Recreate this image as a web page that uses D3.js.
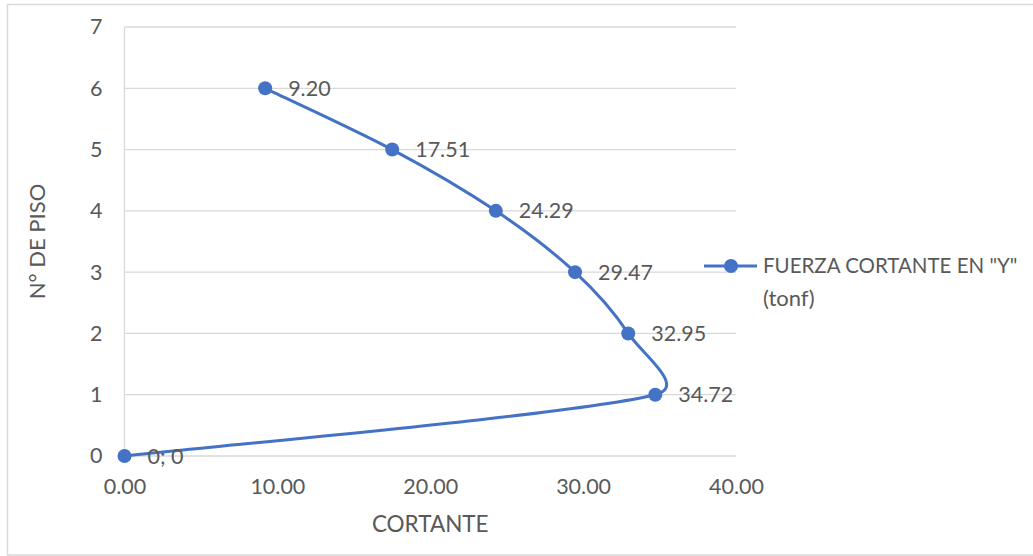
<!DOCTYPE html>
<html>
<head>
<meta charset="utf-8">
<script src="https://cdn.jsdelivr.net/npm/d3@7"></script>
<style>
  html, body { margin: 0; padding: 0; background: #fff; }
  svg { display: block; }
  text { font-family: Lato, "Open Sans", sans-serif; fill: #595959; }
</style>
</head>
<body>
<svg id="chart" width="1033" height="556"></svg>
<script>
// Story shear force (tonf) against floor number
const floors = [0, 1, 2, 3, 4, 5, 6];
const shear = [0, 34.72, 32.95, 29.47, 24.29, 17.51, 9.20];
const pointLabels = ["0; 0", "34.72", "32.95", "29.47", "24.29", "17.51", "9.20"];
const xTicks = [0, 10, 20, 30, 40];
const yTicks = [0, 1, 2, 3, 4, 5, 6, 7];
const seriesName = ["FUERZA CORTANTE EN \"Y\"", "(tonf)"];
const xTitle = "CORTANTE";
const yTitle = "N° DE PISO";

const W = 1033, H = 556;
const plot = { left: 124.5, right: 736, top: 27, bottom: 456 };
const blue = "#4472C4";

// Spreadsheet-style smoothing: cubic Bezier segments whose control arms are
// 1/6 of the neighbour chord, capped at half of the segment length.
function SmoothCurve(context) { this._context = context; }
SmoothCurve.prototype = {
  areaStart() { this._line = 0; },
  areaEnd() { this._line = NaN; },
  lineStart() { this._pts = []; },
  point(x, y) { this._pts.push([+x, +y]); },
  lineEnd() {
    const p = this._pts, n = p.length, ctx = this._context;
    if (!n) return;
    ctx.moveTo(p[0][0], p[0][1]);
    const dist = (a, b) => Math.hypot(b[0] - a[0], b[1] - a[1]);
    for (let i = 0; i < n - 1; i++) {
      const p0 = p[Math.max(i - 1, 0)], p1 = p[i], p2 = p[i + 1], p3 = p[Math.min(i + 2, n - 1)];
      const d12 = dist(p1, p2);
      let f1 = 1 / 6, f2 = 1 / 6;
      const d02 = dist(p0, p2), d13 = dist(p1, p3);
      if (d02 * f1 > d12 / 2 && d02 > 0) f1 = d12 / (2 * d02);
      if (d13 * f2 > d12 / 2 && d13 > 0) f2 = d12 / (2 * d13);
      const c1 = [p1[0] + f1 * (p2[0] - p0[0]), p1[1] + f1 * (p2[1] - p0[1])];
      const c2 = [p2[0] - f2 * (p3[0] - p1[0]), p2[1] - f2 * (p3[1] - p1[1])];
      ctx.bezierCurveTo(c1[0], c1[1], c2[0], c2[1], p2[0], p2[1]);
    }
  }
};
const curveSmooth = context => new SmoothCurve(context);

const svg = d3.select("#chart");

// chart frame
svg.append("rect")
  .attr("x", 7.5).attr("y", 4.5)
  .attr("width", W + 10).attr("height", 550.5)
  .attr("fill", "#fff").attr("stroke", "#d9d9d9").attr("stroke-width", 1.5);

const x = d3.scaleLinear().domain([0, 40]).range([plot.left, plot.right]);
const y = d3.scaleLinear().domain([0, 7]).range([plot.bottom, plot.top]);

// horizontal gridlines
svg.append("g")
  .selectAll("line")
  .data(yTicks)
  .join("line")
  .attr("x1", plot.left).attr("x2", plot.right)
  .attr("y1", d => y(d)).attr("y2", d => y(d))
  .attr("stroke", "#d9d9d9").attr("stroke-width", 1.3);

// vertical axis line at x = 0
svg.append("line")
  .attr("x1", x(0)).attr("x2", x(0))
  .attr("y1", plot.top).attr("y2", plot.bottom)
  .attr("stroke", "#d9d9d9").attr("stroke-width", 1.3);

// axes built with d3 axis generators, lines hidden
const xAxis = svg.append("g")
  .attr("transform", `translate(0,${plot.bottom})`)
  .call(d3.axisBottom(x).tickValues(xTicks).tickFormat(d3.format(".2f")).tickSize(0).tickPadding(23));
const yAxis = svg.append("g")
  .attr("transform", `translate(${plot.left},0)`)
  .call(d3.axisLeft(y).tickValues(yTicks).tickFormat(d3.format("d")).tickSize(0).tickPadding(22));
[xAxis, yAxis].forEach(g => {
  g.select(".domain").remove();
  g.selectAll("text")
    .style("font-family", "Lato, 'Open Sans', sans-serif")
    .style("font-size", "21.5px")
    .attr("fill", "#595959");
});

// axis titles
svg.append("text")
  .attr("x", (plot.left + plot.right) / 2)
  .attr("y", 532)
  .attr("text-anchor", "middle")
  .style("font-size", "22.5px")
  .text(xTitle);

svg.append("text")
  .attr("transform", `translate(45,${(plot.top + plot.bottom) / 2}) rotate(-90)`)
  .attr("text-anchor", "middle")
  .style("font-size", "22px")
  .text(yTitle);

// smoothed series line
const pts = shear.map((v, i) => [v, floors[i]]);
const line = d3.line()
  .x(d => x(d[0]))
  .y(d => y(d[1]))
  .curve(curveSmooth);

svg.append("path")
  .datum(pts)
  .attr("d", line)
  .attr("fill", "none")
  .attr("stroke", blue)
  .attr("stroke-width", 3)
  .attr("stroke-linecap", "round");

svg.append("g")
  .selectAll("circle")
  .data(pts)
  .join("circle")
  .attr("cx", d => x(d[0]))
  .attr("cy", d => y(d[1]))
  .attr("r", 7)
  .attr("fill", blue);

// data labels to the right of each point
svg.append("g")
  .selectAll("text")
  .data(pts)
  .join("text")
  .attr("x", d => x(d[0]) + 23)
  .attr("y", d => y(d[1]))
  .attr("dy", "0.35em")
  .style("font-size", "21.5px")
  .text((d, i) => pointLabels[i]);

// legend
const lg = svg.append("g").attr("transform", "translate(704,266)");
lg.append("line")
  .attr("x1", 0).attr("x2", 53)
  .attr("stroke", blue).attr("stroke-width", 3);
lg.append("circle").attr("cx", 27).attr("r", 7).attr("fill", blue);
lg.selectAll("text.leg")
  .data(seriesName)
  .join("text")
  .attr("class", "leg")
  .attr("x", 59)
  .attr("y", (d, i) => i * 32)
  .attr("dy", "0.35em")
  .style("font-size", (d, i) => i ? "22px" : "20.5px")
  .text(d => d);
</script>
</body>
</html>
